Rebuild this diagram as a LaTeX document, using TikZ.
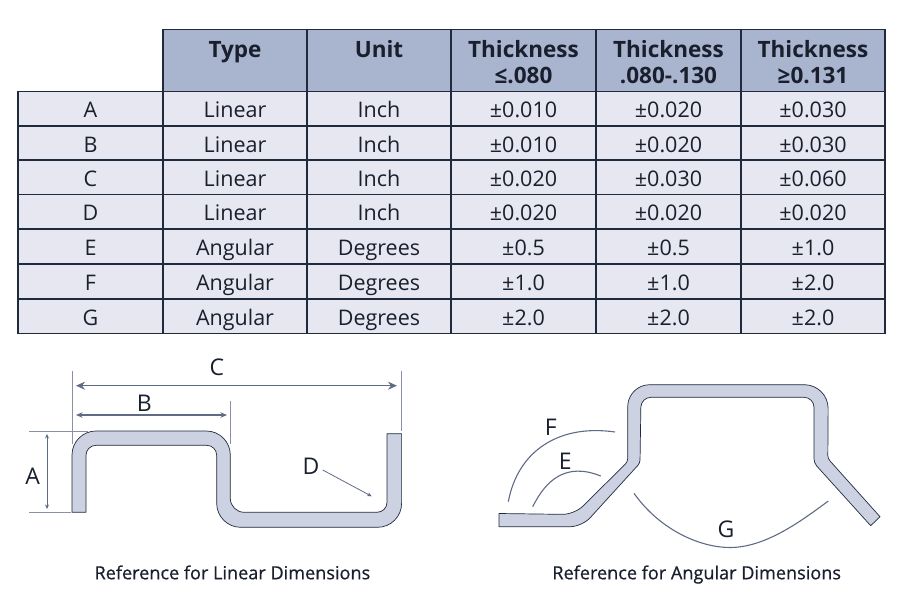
\documentclass[tikz,border=0pt]{standalone}
\usepackage{fontspec}
\setmainfont{Open Sans}
\usetikzlibrary{arrows.meta}
\definecolor{hdr}{HTML}{A9B4CF}
\definecolor{bodyc}{HTML}{E6E7F0}
\definecolor{rule}{HTML}{1F2A3C}
\definecolor{ink}{HTML}{1A1F2E}
\definecolor{metal}{HTML}{CDD2E3}
\definecolor{dimc}{HTML}{5F6B85}
\definecolor{extc}{HTML}{8A90A8}
\tikzset{
  cell/.style={draw=rule,line width=1.5pt,fill=bodyc,text=ink,anchor=north west,inner sep=0pt,outer sep=0pt,
    minimum height=#1,font=\fontsize{21.5}{24}\selectfont,text height=18pt,text depth=0pt},
  hcell/.style={draw=rule,line width=1.5pt,fill=hdr,text=ink,anchor=north west,inner sep=0pt,outer sep=0pt,
    minimum height=62pt,align=center,font=\fontsize{22.5}{26}\selectfont\bfseries},
  part/.style={draw=rule,line width=.7pt,fill=metal,line join=round},
  letter/.style={text=ink,inner sep=0pt,font=\fontsize{23}{26}\selectfont},
  caption/.style={text=ink,inner sep=0pt,anchor=base,font=\fontsize{18.1}{20}\selectfont\addfontfeature{FakeBold=0.6}},
  dimbig/.style={draw=dimc,line width=1.5pt,{Stealth[length=9pt,width=8pt]}-{Stealth[length=9pt,width=8pt]}},
  dimmid/.style={draw=dimc,line width=1.1pt,{Stealth[length=6.5pt,width=5.5pt]}-{Stealth[length=6.5pt,width=5.5pt]}},
  dimsmall/.style={draw=dimc,line width=.8pt,{Stealth[length=4.5pt,width=4pt]}-{Stealth[length=4.5pt,width=4pt]}},
  leader/.style={draw=dimc,line width=.8pt,-{Stealth[length=4.5pt,width=4pt]}},
  ext/.style={draw=extc,line width=.8pt},
  angle arc/.style={draw=dimc,line width=1.1pt}
}
\newcommand{\hs}{\rule{0pt}{20pt}}
\newcommand{\trow}[8]{%
  \node[cell=#3pt,minimum width=145pt] (r#1-0) at (18,#2) {#1};
  \node[cell=#3pt,minimum width=144pt] (r#1-1) at (163,#2) {#4};
  \node[cell=#3pt,minimum width=144pt] (r#1-2) at (307,#2) {#5};
  \node[cell=#3pt,minimum width=145pt] (r#1-3) at (451,#2) {#6};
  \node[cell=#3pt,minimum width=145pt] (r#1-4) at (596,#2) {#7};
  \node[cell=#3pt,minimum width=144pt] (r#1-5) at (741,#2) {#8};
}
\begin{document}
\begin{tikzpicture}[x=1pt,y=-1pt]
\useasboundingbox (0,0) rectangle (900,600);
% header
\node[hcell,minimum width=144pt] (h1) at (163,29.5) {\hs Type\\\phantom{x}};
\node[hcell,minimum width=144pt] (h2) at (307,29.5) {\hs Unit\\\phantom{x}};
\node[hcell,minimum width=145pt] (h3) at (451,29.5) {\hs Thickness\\≤.080};
\node[hcell,minimum width=145pt] (h4) at (596,29.5) {\hs Thickness\\.080-.130};
\node[hcell,minimum width=144pt] (h5) at (741,29.5) {\hs Thickness\\≥0.131};
% rows
\trow{A}{91.5}{34.5}{Linear}{Inch}{±0.010}{±0.020}{±0.030}
\trow{B}{126}{34.2}{Linear}{Inch}{±0.010}{±0.020}{±0.030}
\trow{C}{160.2}{34.5}{Linear}{Inch}{±0.020}{±0.030}{±0.060}
\trow{D}{194.7}{34.5}{Linear}{Inch}{±0.020}{±0.020}{±0.020}
\trow{E}{229.2}{34.8}{Angular}{Degrees}{±0.5}{±0.5}{±1.0}
\trow{F}{264}{35}{Angular}{Degrees}{±1.0}{±1.0}{±2.0}
\trow{G}{299}{34.5}{Angular}{Degrees}{±2.0}{±2.0}{±2.0}
% linear part
\path[part] (72,512.3) [rounded corners=24pt] -- (72,431) -- (230.3,431) [rounded corners=14pt] -- (230.3,512.3) [rounded corners=10pt] -- (387,512.3) [sharp corners] -- (387,433.7) -- (401.6,433.7) [rounded corners=24pt] -- (401.6,527.3) -- (216.7,527.3) [rounded corners=10pt] -- (216.7,445.3) -- (86,445.3) [sharp corners] -- (86,512.3) -- cycle;
% linear dimensions
\coordinate (extAt1) at (29,431);   \coordinate (extAt2) at (87.7,431);
\coordinate (extAb1) at (29,512);   \coordinate (extAb2) at (71,512);
\coordinate (extL1) at (72,370.7);  \coordinate (extL2) at (72,444);
\coordinate (extB1) at (230,400.7); \coordinate (extB2) at (230,444);
\coordinate (extC1) at (401.6,370.7); \coordinate (extC2) at (401.6,431);
\draw[ext] (extAt1) -- (extAt2);
\draw[ext] (extAb1) -- (extAb2);
\draw[ext] (extL1) -- (extL2);
\draw[ext] (extB1) -- (extB2);
\draw[ext] (extC1) -- (extC2);
\coordinate (cL) at (76,385.7);  \coordinate (cR) at (397,385.7);
\coordinate (bL) at (76,415);    \coordinate (bR) at (227,415);
\coordinate (aT) at (47,434);    \coordinate (aB) at (47,509);
\coordinate (dEnd) at (371.7,496.3);
\draw[dimbig] (cL) -- (cR);
\draw[dimmid] (bL) -- (bR);
\draw[dimsmall] (aT) -- (aB);
\node[letter] (la) at (32.7,476) {A};
\node[letter] (lb) at (144.3,403.5) {B};
\node[letter] (lc) at (217,367.5) {C};
\node[letter] (ld) at (311,466) {D};
\coordinate (dStart) at (322.7,470);
\draw[leader] (dStart) -- (dEnd);
\node[caption] (cap1) at (232.4,579.3) {Reference for Linear Dimensions};
% angular part
\path[part] (499,513.5) [rounded corners=12pt] -- (574.5,514.5) [rounded corners=3pt] -- (627.7,461.7) [rounded corners=22pt] -- (627.7,384.7) [rounded corners=24pt] -- (828.3,384.7) [rounded corners=3pt] -- (827.8,458.5) [sharp corners] -- (880,516.7) -- (870.7,525.7) [rounded corners=4pt] -- (814,463) [rounded corners=10pt] -- (814,397.3) -- (641,397.3) [rounded corners=3pt] -- (640,463) [rounded corners=12pt] -- (582,526.7) [sharp corners] -- (499,526.7) -- cycle;
% angular arcs
\coordinate (f1) at (508.3,501.7); \coordinate (f2) at (615,432);
\coordinate (e1) at (532.7,506.7); \coordinate (e2) at (600.7,476);
\coordinate (g1) at (634,493.3);   \coordinate (gm) at (730,547.5); \coordinate (g2) at (828.3,501);
\draw[angle arc] (f1) .. controls (518,450) and (560,424) .. (f2);
\draw[angle arc] (e1) .. controls (546,480) and (566,462) .. (e2);
\draw[angle arc] (g1) .. controls (660,530) and (700,547.5) .. (gm) .. controls (765,547.5) and (800,522) .. (g2);
\node[letter] (lf) at (550.7,427.5) {F};
\node[letter] (le) at (565.3,461) {E};
\node[letter] (lg) at (726,529.5) {G};
\node[caption] (cap2) at (696.7,579.3) {Reference for Angular Dimensions};
\end{tikzpicture}
\end{document}
